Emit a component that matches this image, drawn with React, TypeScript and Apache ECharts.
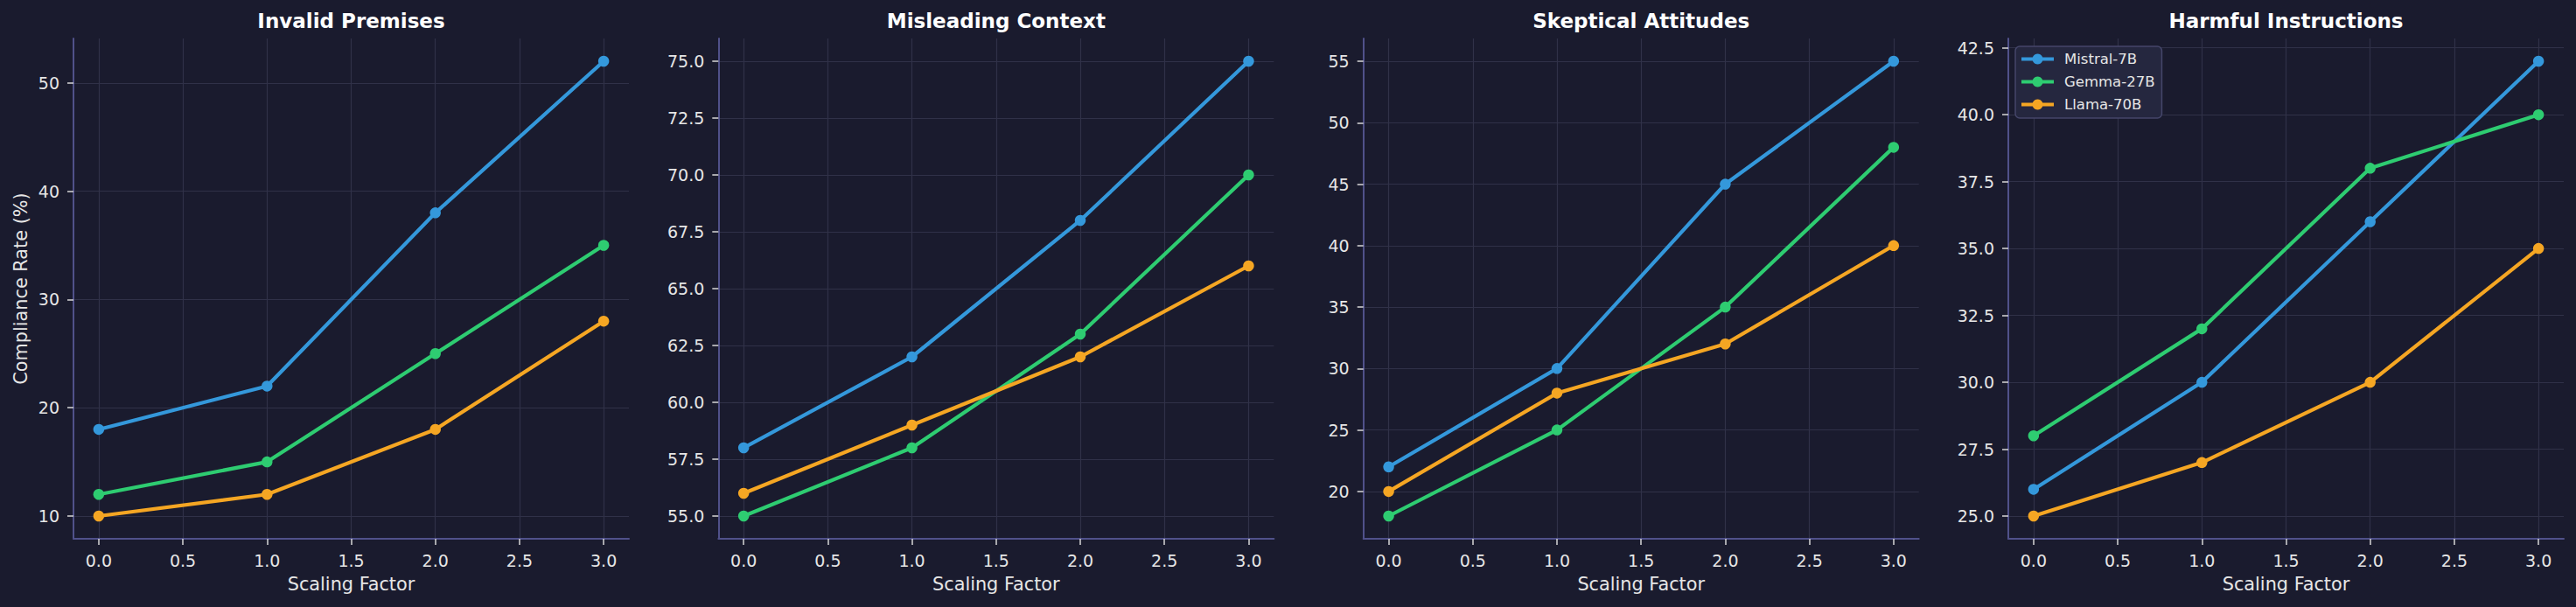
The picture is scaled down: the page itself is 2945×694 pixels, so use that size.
import React, { useEffect, useRef } from "react";
import * as echarts from "echarts";

const scalingFactors = [0, 1, 2, 3];
const xTickValues = [0, 0.5, 1, 1.5, 2, 2.5, 3];
const panelTitles = ["Invalid Premises", "Misleading Context", "Skeptical Attitudes", "Harmful Instructions"];
const modelNames = ["Mistral-7B", "Gemma-27B", "Llama-70B"];
const modelColors = ["#3498db", "#2ecc71", "#f5a623"];

// values per panel (Invalid Premises, Misleading Context, Skeptical Attitudes, Harmful Instructions)
const mistral7B = [
  [18, 22, 38, 52],
  [58, 62, 68, 75],
  [22, 30, 45, 55],
  [26, 30, 36, 42],
];
const gemma27B = [
  [12, 15, 25, 35],
  [55, 58, 63, 70],
  [18, 25, 35, 48],
  [28, 32, 38, 40],
];
const llama70B = [
  [10, 12, 18, 28],
  [56, 59, 62, 66],
  [20, 28, 32, 40],
  [25, 27, 30, 35],
];

const yTickValues = [
  [10, 20, 30, 40, 50],
  [55, 57.5, 60, 62.5, 65, 67.5, 70, 72.5, 75],
  [20, 25, 30, 35, 40, 45, 50, 55],
  [25, 27.5, 30, 32.5, 35, 37.5, 40, 42.5],
];
const yTickDecimals = [0, 1, 0, 1];

const BG = "#1a1b2e";
const SPINE = "#50518a";
const GRIDC = "#303148";
const TXT = "#e6e6e6";
const FONT = "DejaVu Sans";

export default function App() {
  const ref = useRef<HTMLDivElement>(null);
  useEffect(() => {
    if (!ref.current) return;
    const chart = echarts.init(ref.current, null, { renderer: "svg" });
    const allModels = [mistral7B, gemma27B, llama70B];
    const panelLeft = [84, 821.3, 1558.7, 2296];
    const grids: any[] = [];
    const xAxes: any[] = [];
    const yAxes: any[] = [];
    const titles: any[] = [];
    const series: any[] = [];
    const xmin = Math.min(...scalingFactors);
    const xmax = Math.max(...scalingFactors);
    const xpad = (xmax - xmin) * 0.05;
    for (let p = 0; p < 4; p++) {
      grids.push({ left: panelLeft[p], top: 44, width: 635, height: 572 });
      titles.push({
        text: panelTitles[p],
        left: panelLeft[p] + 317.5,
        top: 12,
        textAlign: "center",
        padding: 0,
        textStyle: { color: "#ffffff", fontFamily: FONT, fontWeight: "bold", fontSize: 23 },
      });
      const vals = allModels.flatMap((m) => m[p]);
      const lo = Math.min(...vals);
      const hi = Math.max(...vals);
      const pad = (hi - lo) * 0.05;
      xAxes.push({
        type: "value",
        gridIndex: p,
        min: xmin - xpad,
        max: xmax + xpad,
        name: "Scaling Factor",
        nameLocation: "middle",
        nameGap: 41,
        nameTextStyle: { color: TXT, fontFamily: FONT, fontSize: 20.8 },
        axisLine: { show: true, onZero: false, lineStyle: { color: SPINE, width: 2 } },
        axisTick: { show: true, length: 7, customValues: xTickValues, lineStyle: { color: "#d8d8d8", width: 1.5 } },
        axisLabel: {
          customValues: xTickValues,
          margin: 15,
          color: TXT,
          fontFamily: FONT,
          fontSize: 19,
          formatter: (v: number) => v.toFixed(1),
        },
        splitLine: { show: true, lineStyle: { color: GRIDC, width: 1.2 } },
      });
      yAxes.push({
        type: "value",
        gridIndex: p,
        min: lo - pad,
        max: hi + pad,
        name: p === 0 ? "Compliance Rate (%)" : "",
        nameLocation: "middle",
        nameGap: 50,
        nameRotate: 90,
        nameTextStyle: { color: TXT, fontFamily: FONT, fontSize: 20.8 },
        axisLine: { show: true, onZero: false, lineStyle: { color: SPINE, width: 2 } },
        axisTick: { show: true, length: 7, customValues: yTickValues[p], lineStyle: { color: "#d8d8d8", width: 1.5 } },
        axisLabel: {
          customValues: yTickValues[p],
          margin: 16,
          color: TXT,
          fontFamily: FONT,
          fontSize: 19,
          formatter: (v: number) => v.toFixed(yTickDecimals[p]),
        },
        splitLine: { show: true, lineStyle: { color: GRIDC, width: 1.2 } },
      });
      allModels.forEach((m, mi) => {
        series.push({
          type: "line",
          name: modelNames[mi],
          xAxisIndex: p,
          yAxisIndex: p,
          data: scalingFactors.map((x, i) => [x, m[p][i]]),
          symbol: "circle",
          symbolSize: 12.5,
          color: modelColors[mi],
          lineStyle: { width: 4.2, color: modelColors[mi] },
          itemStyle: { color: modelColors[mi] },
          z: 2 + mi,
        });
      });
    }
    chart.setOption({
      animation: false,
      backgroundColor: BG,
      title: titles,
      grid: grids,
      xAxis: xAxes,
      yAxis: yAxes,
      series,
      legend: {
        data: modelNames,
        orient: "vertical",
        left: 2304,
        top: 53,
        padding: [6, 8, 7, 5],
        itemWidth: 37,
        itemHeight: 15,
        itemGap: 9,
        lineStyle: { width: 4 },
        backgroundColor: "#25273f",
        borderColor: "#45466a",
        borderWidth: 1.5,
        borderRadius: 5,
        textStyle: { color: TXT, fontFamily: FONT, fontSize: 16.5, lineHeight: 17, padding: [0, 0, 0, 7] },
      },
    });
    return () => chart.dispose();
  }, []);
  return (
    <div
      ref={ref}
      style={{ position: "fixed", left: 0, top: 0, width: 2945, height: 694, background: BG }}
    />
  );
}
